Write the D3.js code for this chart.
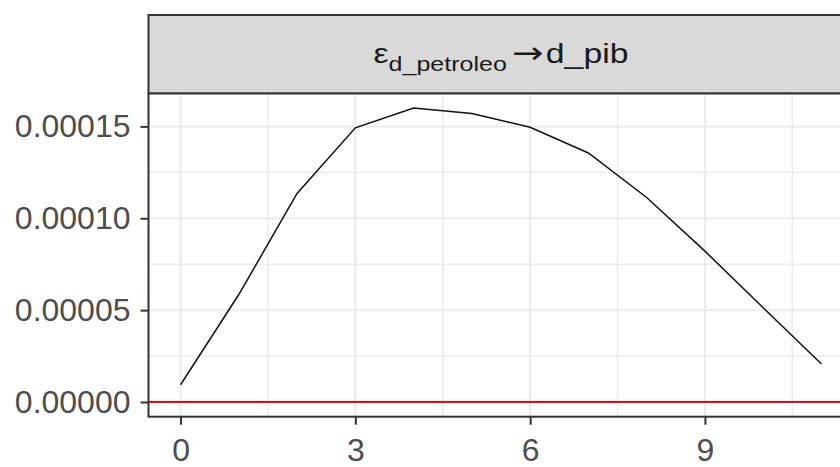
<!DOCTYPE html>
<html>
<head>
<meta charset="utf-8">
<script src="https://cdn.jsdelivr.net/npm/d3@7"></script>
<style>
  body { margin: 0; background: #fff; }
  svg { display: block; font-family: "Liberation Sans", Arial, sans-serif; }
</style>
</head>
<body>
<script>
// impulse response of d_pib to a shock in d_petroleo
var horizon = [0, 1, 2, 3, 4, 5, 6, 7, 8, 9, 10, 11];
var response = [0.0000094, 0.0000585, 0.0001135, 0.0001492, 0.0001600, 0.0001570,
                0.0001495, 0.0001355, 0.0001113, 0.0000821, 0.0000513, 0.0000207];
var xTicks = [0, 3, 6, 9];
var xMinor = [1.5, 4.5, 7.5, 10.5];
var yTicks = [0, 0.00005, 0.00010, 0.00015];
var yMinor = [0.000025, 0.000075, 0.000125];

var w = 840;
var h = 467;

var panelLeft = 148.5, panelRight = 853.5;
var panelTop = 93.3, panelBottom = 416.7;
var stripTop = 15;

var svg = d3.select("body").append("svg")
  .attr("width", w)
  .attr("height", h);

// ggplot style 5% expansion
var xr = d3.extent(horizon);
var xpad = (xr[1] - xr[0]) * 0.05;
var x = d3.scaleLinear()
  .domain([xr[0] - xpad, xr[1] + xpad])
  .range([panelLeft, panelRight]);

var yr = d3.extent(response.concat([0]));
var ypad = (yr[1] - yr[0]) * 0.05;
var y = d3.scaleLinear()
  .domain([yr[0] - ypad, yr[1] + ypad])
  .range([panelBottom, panelTop]);

// grid
var grid = svg.append("g");
grid.selectAll(".xminor").data(xMinor).enter().append("line")
  .attr("x1", function(d) { return x(d); })
  .attr("x2", function(d) { return x(d); })
  .attr("y1", panelTop).attr("y2", panelBottom)
  .style("stroke", "#ebebeb").style("stroke-width", 1.5);
grid.selectAll(".yminor").data(yMinor).enter().append("line")
  .attr("x1", panelLeft).attr("x2", panelRight)
  .attr("y1", function(d) { return y(d); })
  .attr("y2", function(d) { return y(d); })
  .style("stroke", "#ebebeb").style("stroke-width", 1.5);
grid.selectAll(".xmajor").data(xTicks).enter().append("line")
  .attr("x1", function(d) { return x(d); })
  .attr("x2", function(d) { return x(d); })
  .attr("y1", panelTop).attr("y2", panelBottom)
  .style("stroke", "#ebebeb").style("stroke-width", 2);
grid.selectAll(".ymajor").data(yTicks).enter().append("line")
  .attr("x1", panelLeft).attr("x2", panelRight)
  .attr("y1", function(d) { return y(d); })
  .attr("y2", function(d) { return y(d); })
  .style("stroke", "#ebebeb").style("stroke-width", 2);

// zero line
svg.append("line")
  .attr("x1", panelLeft).attr("x2", panelRight)
  .attr("y1", y(0)).attr("y2", y(0))
  .style("stroke", "red")
  .style("stroke-width", 2);

// response line
var line = d3.line()
  .x(function(d, i) { return x(horizon[i]); })
  .y(function(d) { return y(d); });

svg.append("path")
  .datum(response)
  .attr("d", line)
  .style("fill", "none")
  .style("stroke", "#111")
  .style("stroke-width", 1.5);

// panel border
svg.append("rect")
  .attr("x", panelLeft).attr("y", panelTop)
  .attr("width", panelRight - panelLeft)
  .attr("height", panelBottom - panelTop)
  .style("fill", "none")
  .style("stroke", "#333333")
  .style("stroke-width", 2);

// axes
var xAxis = d3.axisBottom(x)
  .tickValues(xTicks)
  .tickSize(8)
  .tickPadding(14)
  .tickFormat(d3.format("d"));
var gx = svg.append("g")
  .attr("transform", "translate(0," + panelBottom + ")")
  .call(xAxis);

var yAxis = d3.axisLeft(y)
  .tickValues(yTicks)
  .tickSize(8)
  .tickPadding(10)
  .tickFormat(d3.format(".5f"));
var gy = svg.append("g")
  .attr("transform", "translate(" + panelLeft + ",0)")
  .call(yAxis);

[gx, gy].forEach(function(g) {
  g.select(".domain").remove();
  g.selectAll(".tick line").style("stroke", "#333333").style("stroke-width", 2);
  g.selectAll(".tick text")
    .style("fill", "#4d4d4d")
    .style("font-size", "32px")
    .style("font-family", "'Liberation Sans', Arial, sans-serif");
});

// facet strip
svg.append("rect")
  .attr("x", panelLeft).attr("y", stripTop)
  .attr("width", panelRight - panelLeft)
  .attr("height", panelTop - stripTop)
  .style("fill", "#d9d9d9")
  .style("stroke", "#333333")
  .style("stroke-width", 2);

var label = svg.append("text")
  .attr("x", (panelLeft + panelRight) / 2)
  .attr("y", 63)
  .attr("text-anchor", "middle")
  .attr("textLength", 255)
  .attr("lengthAdjust", "spacingAndGlyphs")
  .style("fill", "#1a1a1a")
  .style("font-size", "27px");
label.append("tspan").text("\u03b5");
label.append("tspan")
  .attr("dy", 8)
  .style("font-size", "20px")
  .text("d_petroleo");
label.append("tspan")
  .attr("dy", -8)
  .attr("dx", 4)
  .style("font-family", "'DejaVu Sans', sans-serif")
  .style("font-size", "30px")
  .text("\u2192");
label.append("tspan")
  .attr("dx", 2)
  .text("d_pib");
</script>
</body>
</html>
